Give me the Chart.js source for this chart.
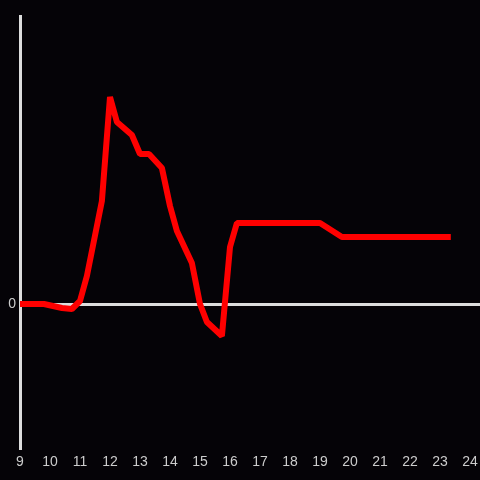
<!DOCTYPE html>
<html>
<head>
<meta charset="utf-8">
<script src="https://cdn.jsdelivr.net/npm/chart.js@4"></script>
<style>
  html, body { margin: 0; padding: 0; background: #050307; }
  #wrap { width: 480px; height: 480px; }
</style>
</head>
<body>
<div id="wrap"><canvas id="myChart"></canvas></div>
<script>
(function(){
    'use strict';

    // hour of day
    const hours = [9, 9.8, 10.4, 10.73, 11, 11.23, 11.73, 12, 12.23, 12.73, 13, 13.3, 13.73,
                   14, 14.23, 14.73, 15, 15.23, 15.73, 16, 16.23, 19, 19.73, 23.36];
    const values = [0, 0, -4, -5, 3, 28, 103, 207, 182, 169, 150, 150, 136,
                    98, 73, 41, 0, -18, -32, 57, 81, 81, 67, 67];
    const xTicks = [9, 10, 11, 12, 13, 14, 15, 16, 17, 18, 19, 20, 21, 22, 23, 24];
    const yTicks = [0];

    const ctx = document.getElementById('myChart');

    new Chart(ctx, {
      type: 'line',
      data: {
        datasets: [{
          data: hours.map((h, i) => ({ x: h, y: values[i] })),
          borderColor: '#ff0000',
          borderWidth: 6,
          pointRadius: 0,
          tension: 0,
          borderJoinStyle: 'bevel'
        }]
      },
      options: {
        responsive: true,
        maintainAspectRatio: false,
        animation: false,
        layout: { padding: { top: 16, right: 0, left: 0, bottom: 0 } },
        plugins: { legend: { display: false }, tooltip: { enabled: false } },
        scales: {
          x: {
            type: 'linear',
            min: 9,
            max: 24.333,
            afterBuildTicks: axis => { axis.ticks = xTicks.map(v => ({ value: v })); },
            afterFit: axis => {
              axis.height = 32;
              axis.paddingRight = 0;
              axis.paddingLeft = 0;
            },
            grid: { display: false, drawTicks: false },
            border: { display: false },
            ticks: {
              color: '#cccccc',
              padding: 6,
              maxRotation: 0,
              autoSkip: false,
              font: { family: 'Liberation Sans', size: 14 }
            }
          },
          y: {
            min: -144,
            max: 288,
            afterBuildTicks: axis => { axis.ticks = yTicks.map(v => ({ value: v })); },
            afterFit: axis => { axis.width = 20; },
            grid: {
              drawTicks: false,
              color: c => c.tick && c.tick.value === 0 ? '#dddddd' : 'rgba(0,0,0,0)',
              lineWidth: 3
            },
            border: { display: true, color: '#dddddd', width: 3 },
            ticks: {
              color: '#cccccc',
              padding: 4,
              font: { family: 'Liberation Sans', size: 14 }
            }
          }
        }
      }
    });
})();
</script>
</body>
</html>
